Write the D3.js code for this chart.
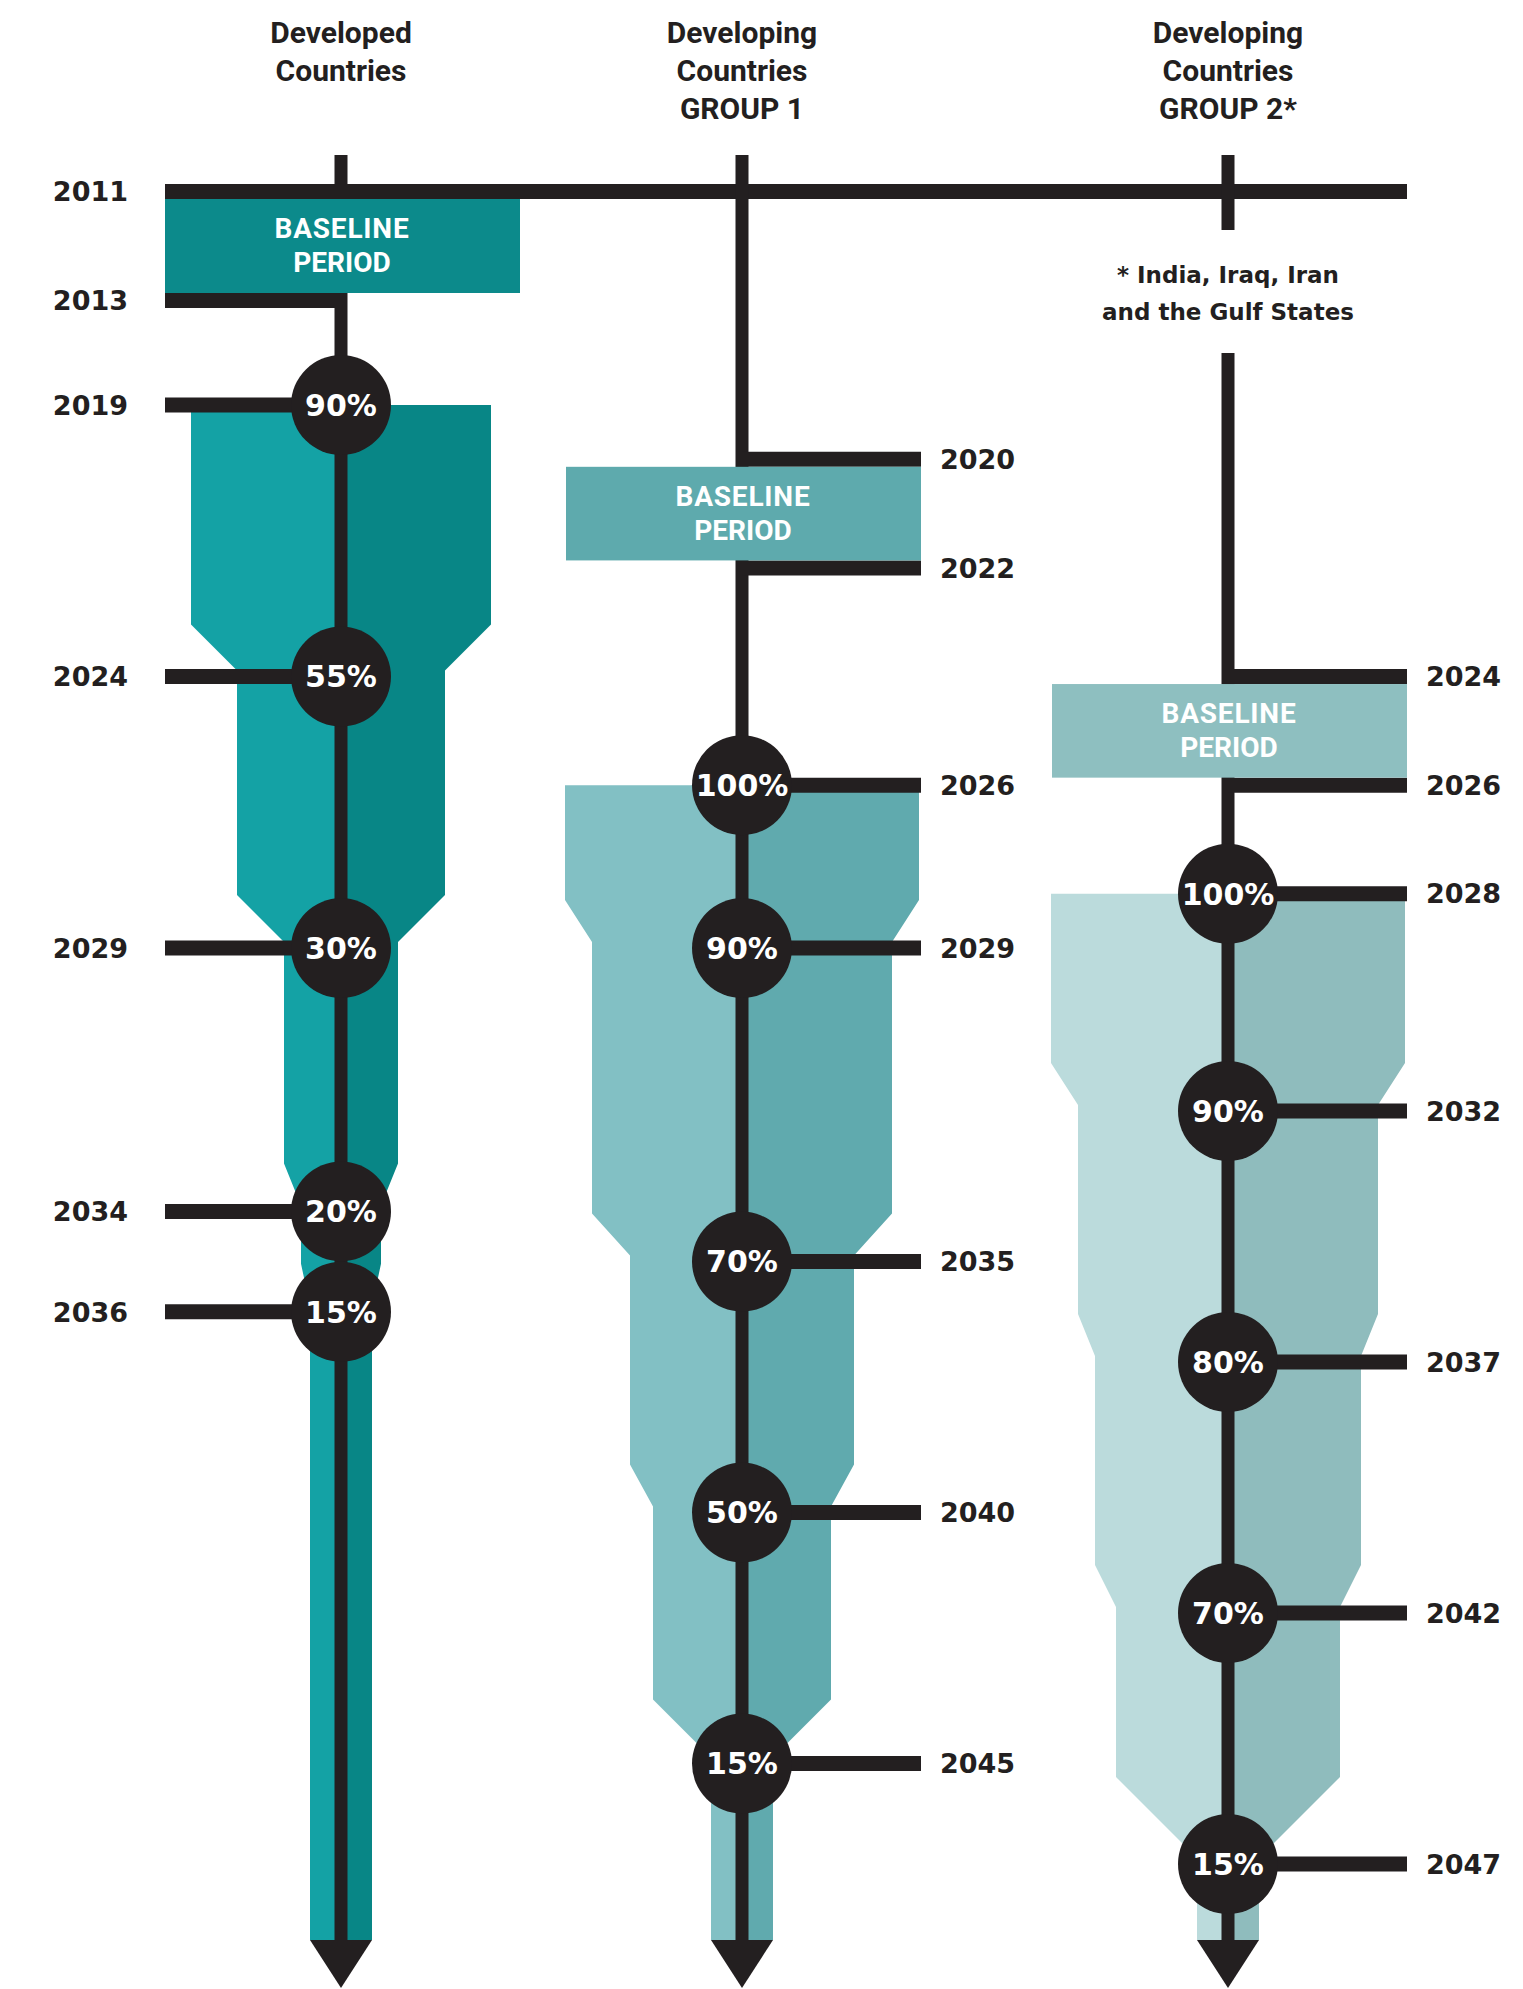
<!DOCTYPE html>
<html>
<head>
<meta charset="utf-8">
<script src="https://cdn.jsdelivr.net/npm/d3@7"></script>
<style>
  body { margin: 0; background: #ffffff; }
  svg { display: block; }
</style>
</head>
<body>
<div id="chart"></div>
<script>
// ----------------------
// Phase-down timeline: three country groups
// ----------------------

// Data
const groupKeys = ["developed", "group1", "group2"];
const titleLines = [
    ["Developed", "Countries"],
    ["Developing", "Countries", "GROUP 1"],
    ["Developing", "Countries", "GROUP 2*"]
];
const baselineStart = [2011, 2020, 2024];
const baselineEnd = [2013, 2022, 2026];
const stepYears = [
    [2019, 2024, 2029, 2034, 2036],
    [2026, 2029, 2035, 2040, 2045],
    [2028, 2032, 2037, 2042, 2047]
];
const stepPct = [
    [90, 55, 30, 20, 15],
    [100, 90, 70, 50, 15],
    [100, 90, 80, 70, 15]
];
const labelSide = ["left", "right", "right"];
const footnote = ["* India, Iraq, Iran", "and the Gulf States"];

// Colours per group: [light half, dark half, baseline box]
const palette = [
    ["#14a2a5", "#088686", "#0c8a8b"],
    ["#82c0c4", "#60aaae", "#5eaaad"],
    ["#bbdbdc", "#8fbcbd", "#8ebfc0"]
];
const ink = "#231f20";

const width = 1523;
const height = 1989;

const svg = d3.select("#chart")
    .append("svg")
    .attr("width", width)
    .attr("height", height);

// Scales
const x = d3.scaleOrdinal()
    .domain(groupKeys)
    .range([341, 742, 1228]);

const y = d3.scaleLinear()
    .domain([2011, 2013, 2019, 2032, 2047])
    .range([191.5, 300.5, 405, 1111, 1864]);

// half width of the funnel for a given share
const half = d3.scaleLinear()
    .domain([15, 20, 30, 50, 55, 70, 80, 90, 100])
    .range([31, 40, 57, 89, 104, 112, 133, 150, 177]);

const tickLen = 178;
const lineTop = 155;
const arrowBase = 1940;
const arrowTip = 1988;
const vStroke = 13;
const hStroke = 15;
const circleR = 50;

const groups = groupKeys.map((key, i) => ({
    key,
    cx: x(key),
    title: titleLines[i],
    start: baselineStart[i],
    end: baselineEnd[i],
    steps: stepYears[i].map((yr, j) => ({ year: yr, pct: stepPct[i][j] })),
    side: labelSide[i],
    colors: palette[i]
}));

const gFunnel = svg.append("g");
const gLines = svg.append("g");
const gBoxes = svg.append("g");
const gCircles = svg.append("g");
const gText = svg.append("g");

// Funnel outline points (y down the column, w = half width)
function funnelPoints(g) {
    const pts = [];
    g.steps.forEach((s, i) => {
        const w = half(s.pct);
        const yy = y(s.year);
        if (i === 0) {
            pts.push({ y: yy, w: w });
            return;
        }
        const prev = half(g.steps[i - 1].pct);
        const end = yy - 6;
        const start = end - Math.max(42, prev - w);
        pts.push({ y: start, w: prev }, { y: end, w: w });
    });
    pts.push({ y: arrowBase, w: half(g.steps[g.steps.length - 1].pct) });
    return pts;
}

groups.forEach(g => {
    const pts = funnelPoints(g);

    const leftArea = d3.area()
        .y(d => d.y)
        .x0(g.cx)
        .x1(d => g.cx - d.w);
    const rightArea = d3.area()
        .y(d => d.y)
        .x0(g.cx)
        .x1(d => g.cx + d.w);

    gFunnel.append("path")
        .attr("d", leftArea(pts))
        .attr("fill", g.colors[0]);
    gFunnel.append("path")
        .attr("d", rightArea(pts))
        .attr("fill", g.colors[1]);

    // arrow head
    const wEnd = half(g.steps[g.steps.length - 1].pct);
    gLines.append("path")
        .attr("d", d3.line()([[g.cx - wEnd, arrowBase], [g.cx + wEnd, arrowBase], [g.cx, arrowTip]]) + "Z")
        .attr("fill", ink);

    // vertical spine
    const spans = g.key === "group2"
        ? [[lineTop, 230], [353, arrowBase + 1]]
        : [[lineTop, arrowBase + 1]];
    spans.forEach(([a, b]) => {
        gLines.append("line")
            .attr("x1", g.cx).attr("x2", g.cx)
            .attr("y1", a).attr("y2", b)
            .attr("stroke", ink)
            .attr("stroke-width", vStroke);
    });

    // year ticks and labels
    const tickYears = [g.start, g.end].concat(g.steps.map(s => s.year));
    tickYears.forEach(yr => {
        const yy = y(yr);
        let x1, x2;
        if (yr === 2011) {
            x1 = x("developed") - tickLen + 2;
            x2 = x("group2") + tickLen + 1;
        } else if (g.side === "left") {
            x1 = g.cx - tickLen + 2;
            x2 = g.cx;
        } else {
            x1 = g.cx;
            x2 = g.cx + tickLen + 1;
        }
        gLines.append("line")
            .attr("x1", x1).attr("x2", x2)
            .attr("y1", yy).attr("y2", yy)
            .attr("stroke", ink)
            .attr("stroke-width", hStroke);

        gText.append("text")
            .attr("x", g.side === "left" ? g.cx - tickLen - 35 : g.cx + tickLen + 20)
            .attr("y", yy)
            .attr("dy", "0.36em")
            .attr("text-anchor", g.side === "left" ? "end" : "start")
            .attr("font-family", "'DejaVu Sans', sans-serif")
            .attr("font-weight", 700)
            .attr("font-size", 27)
            .attr("fill", ink)
            .text(yr);
    });

    // baseline box
    const by0 = y(g.start) + hStroke / 2;
    const by1 = y(g.end) - hStroke / 2;
    const mid = (by0 + by1) / 2;
    gBoxes.append("rect")
        .attr("x", g.cx - tickLen + 2)
        .attr("y", by0)
        .attr("width", 2 * tickLen - 1)
        .attr("height", by1 - by0)
        .attr("fill", g.colors[2]);
    ["BASELINE", "PERIOD"].forEach((t, i) => {
        gBoxes.append("text")
            .attr("x", g.cx + 1)
            .attr("y", mid + (i === 0 ? -8 : 26))
            .attr("text-anchor", "middle")
            .attr("font-family", "Roboto, sans-serif")
            .attr("font-weight", 700)
            .attr("font-size", 28)
            .attr("letter-spacing", i === 0 ? 0.8 : 0)
            .attr("fill", "#ffffff")
            .text(t);
    });

    // milestone circles
    g.steps.forEach(s => {
        gCircles.append("circle")
            .attr("cx", g.cx)
            .attr("cy", y(s.year))
            .attr("r", circleR)
            .attr("fill", ink);
        gCircles.append("text")
            .attr("x", g.cx)
            .attr("y", y(s.year))
            .attr("dy", "0.36em")
            .attr("text-anchor", "middle")
            .attr("font-family", "'DejaVu Sans', sans-serif")
            .attr("font-weight", 700)
            .attr("font-size", 30)
            .attr("fill", "#ffffff")
            .text(s.pct + "%");
    });

    // column title
    g.title.forEach((t, i) => {
        gText.append("text")
            .attr("x", g.cx)
            .attr("y", 43 + i * 38)
            .attr("text-anchor", "middle")
            .attr("font-family", "Roboto, sans-serif")
            .attr("font-weight", 700)
            .attr("font-size", 30)
            .attr("fill", ink)
            .text(t);
    });
});

// footnote for group 2
footnote.forEach((t, i) => {
    gText.append("text")
        .attr("x", x("group2"))
        .attr("y", 283 + i * 37)
        .attr("text-anchor", "middle")
        .attr("font-family", "'DejaVu Sans', sans-serif")
        .attr("font-weight", 700)
        .attr("font-size", 23)
        .attr("fill", ink)
        .text(t);
});
</script>
</body>
</html>
